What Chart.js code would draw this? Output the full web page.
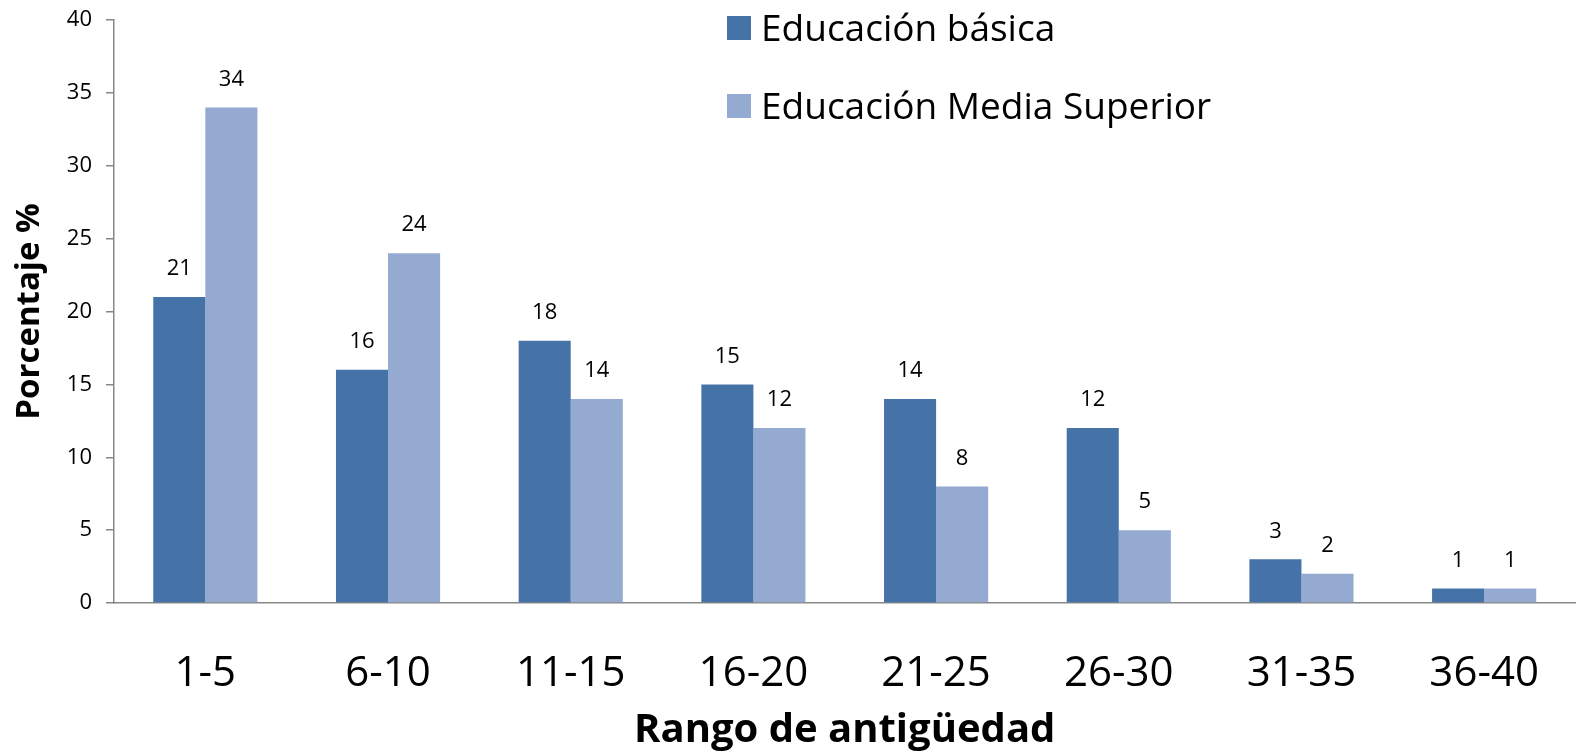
<!DOCTYPE html>
<html>
<head>
<meta charset="utf-8">
<script src="https://cdn.jsdelivr.net/npm/chart.js@4/dist/chart.umd.min.js"></script>
<style>
	body { margin: 0; background: #fff; }
	#wrap { width: 1577px; height: 755px; }
</style>
</head>
<body>
<div id="wrap"><canvas id="myChart"></canvas></div>
<script>
const categories = ["1-5", "6-10", "11-15", "16-20", "21-25", "26-30", "31-35", "36-40"];
const basica = [21, 16, 18, 15, 14, 12, 3, 1];
const mediaSuperior = [34, 24, 14, 12, 8, 5, 2, 1];
const yTicks = [0, 5, 10, 15, 20, 25, 30, 35, 40];

const fontName = "'Open Sans', Lato, sans-serif";

// values above each bar
const barLabels = {
	id: "barLabels",
	afterDatasetsDraw(chart) {
		const ctx = chart.ctx;
		ctx.save();
		ctx.fillStyle = "#000";
		ctx.font = "22px " + fontName;
		ctx.textAlign = "center";
		ctx.textBaseline = "middle";
		chart.data.datasets.forEach((ds, i) => {
			chart.getDatasetMeta(i).data.forEach((bar, j) => {
				ctx.fillText(String(ds.data[j]), bar.x, bar.y - 28);
			});
		});
		ctx.restore();
	},
};

// legend in the top middle of the plot
const boxLegend = {
	id: "boxLegend",
	afterDraw(chart) {
		const ctx = chart.ctx;
		ctx.save();
		ctx.font = "37px " + fontName;
		ctx.textBaseline = "middle";
		chart.data.datasets.forEach((ds, i) => {
			const y = 28 + i * 78;
			ctx.fillStyle = ds.backgroundColor;
			ctx.fillRect(727, y - 12, 24, 24);
			ctx.fillStyle = "#000";
			ctx.fillText(ds.label, 761, y + 2);
		});
		ctx.restore();
	},
};

new Chart("myChart", {
	type: "bar",
	data: {
		labels: categories,
		datasets: [
			{
				label: "Educación básica",
				data: basica,
				backgroundColor: "#4673A7",
			},
			{
				label: "Educación Media Superior",
				data: mediaSuperior,
				backgroundColor: "#95AAD1",
			},
		],
	},
	options: {
		responsive: true,
		maintainAspectRatio: false,
		animation: false,
		layout: { padding: { top: 20, right: 1, left: 0, bottom: 0 } },
		datasets: {
			bar: { categoryPercentage: 0.57, barPercentage: 1.0 },
		},
		plugins: {
			legend: { display: false },
			tooltip: { enabled: false },
		},
		scales: {
			x: {
				grid: { display: false },
				border: { display: true, color: "#878787", width: 1.5 },
				ticks: {
					color: "#000",
					font: { family: fontName, size: 42 },
					padding: 38,
				},
				title: {
					display: true,
					text: "Rango de antigüedad",
					color: "#000",
					font: { family: fontName, size: 40, weight: "bold" },
					padding: { top: 0, bottom: 0 },
				},
				afterFit(scale) {
					scale.height = 152;
				},
			},
			y: {
				min: 0,
				max: 40,
				afterBuildTicks(scale) {
					scale.ticks = yTicks.map((v) => ({ value: v }));
				},
				grid: {
					drawOnChartArea: false,
					drawTicks: true,
					tickLength: 8,
					color: "#878787",
					lineWidth: 1.5,
				},
				border: { display: true, color: "#878787", width: 1.5 },
				ticks: {
					color: "#000",
					font: { family: fontName, size: 22 },
					padding: 14,
				},
				title: {
					display: true,
					text: "Porcentaje %",
					color: "#000",
					font: { family: fontName, size: 33, weight: "bold" },
					padding: { top: 10, bottom: 10 },
				},
				afterFit(scale) {
					scale.width = 114;
					scale.paddingTop = 0;
				},
			},
		},
	},
	plugins: [barLabels, boxLegend],
});
</script>
</body>
</html>
